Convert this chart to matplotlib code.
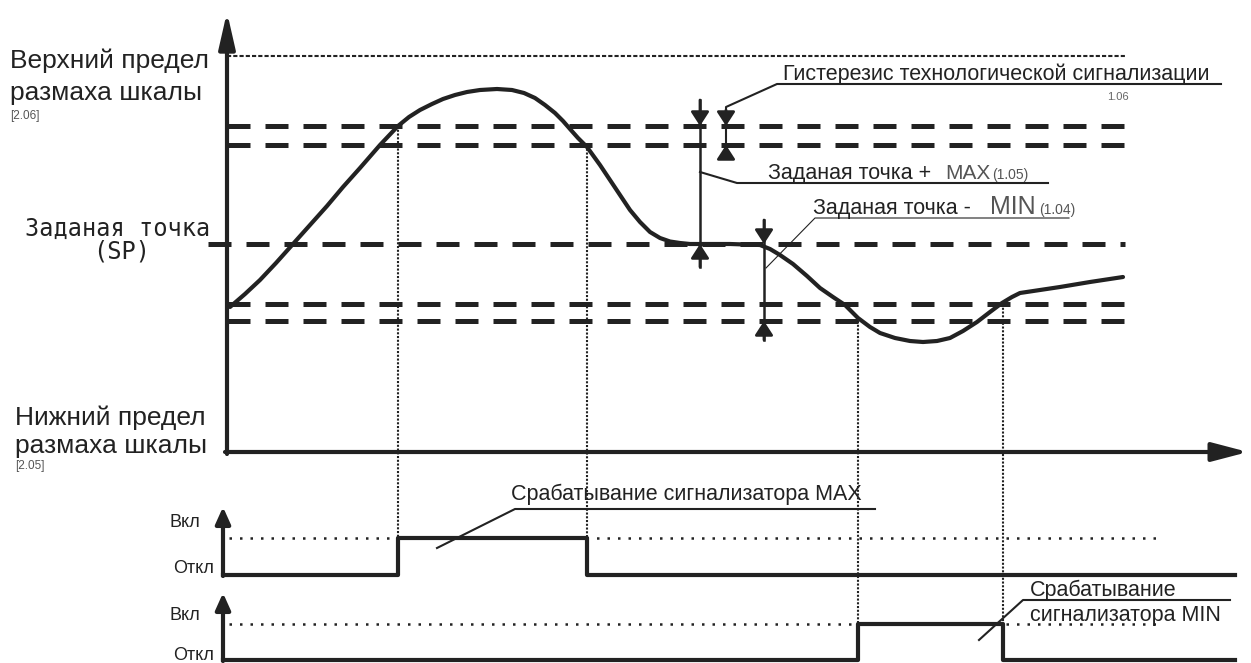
import matplotlib.pyplot as plt

plt.rcParams['font.family'] = ['Liberation Sans', 'DejaVu Sans']

C = '#222222'

# process value curve (time, level in px units)
curve_t = [230, 245, 260, 276, 293, 310, 327, 343, 360, 380, 398, 409, 420, 432, 443,
           455, 467, 480, 497, 512, 524, 535, 545, 555, 563, 570, 578, 587, 600, 610,
           620, 630, 640, 650, 660, 670, 680, 690, 700, 730, 760, 770, 780, 793, 807,
           820, 833, 845, 858, 870, 880, 895, 910, 923, 937, 950, 963, 977, 990, 1002,
           1012, 1020, 1040, 1060, 1090, 1123]
curve_v = [307, 294, 280, 263, 244, 225, 206, 187, 168, 145, 126, 117, 110, 104, 99,
           95, 92, 90, 89, 90, 93, 98, 105, 113, 121, 129, 138, 147, 165, 180,
           195, 210, 222, 232, 238, 241.5, 243, 244, 244, 244, 245, 249, 255, 264, 276,
           288, 297, 305, 318, 327, 333, 338, 341, 342, 341, 338, 331, 322, 312, 303,
           297, 293, 290, 287, 282, 277]

# levels
upper_limit = 56
max_on, max_off = 126, 145
setpoint = 244
min_off, min_on = 304, 321
levels_end = 1125

# alarm switching moments
max_t_on, max_t_off = 398, 587
min_t_on, min_t_off = 858, 1003

# relay diagrams (on / off levels)
relay1_on, relay1_off = 538, 575
relay2_on, relay2_off = 624, 660

# axes geometry
y_axis_x, x_axis_y = 227, 452
relay_axis_x = 223
relay_end = 1235

fig = plt.figure(figsize=(12.51, 6.63), dpi=100)
ax = fig.add_axes([0, 0, 1, 1])
ax.set_xlim(0, 1251)
ax.set_ylim(663, 0)
ax.axis('off')


def arrow(tip, tail, lw=2, ms=10, hl=0.85, hw=0.55):
    ax.annotate('', xy=tip, xytext=tail,
                arrowprops=dict(arrowstyle=f'-|>,head_length={hl},head_width={hw}',
                                color=C, lw=lw, mutation_scale=ms,
                                shrinkA=0, shrinkB=0))


# main axes
arrow((y_axis_x, 12), (y_axis_x, x_axis_y + 2), lw=3, ms=15, hl=1.45, hw=0.33)
arrow((1248, x_axis_y), (y_axis_x - 2, x_axis_y), lw=3, ms=15, hl=1.45, hw=0.38)

# limit and alarm levels
ax.plot([y_axis_x, levels_end], [upper_limit] * 2, color=C, lw=1.5, dashes=(2, 1))
for lv in [max_on, max_off, min_off, min_on]:
    ax.plot([y_axis_x, levels_end], [lv] * 2, color=C, lw=3.6, dashes=(4.6, 3))
ax.plot([208, levels_end], [setpoint] * 2, color=C, lw=3.6, dashes=(4.6, 3))

# process curve
ax.plot(curve_t, curve_v, color=C, lw=3, solid_capstyle='round', solid_joinstyle='round')

# switching moments
dots = (0, (1, 0.8))
ax.plot([max_t_on] * 2, [max_on, relay1_on], color=C, lw=1.5, linestyle=dots)
ax.plot([max_t_off] * 2, [max_off, relay1_off], color=C, lw=1.5, linestyle=dots)
ax.plot([min_t_on] * 2, [min_on, relay2_on], color=C, lw=1.5, linestyle=dots)
ax.plot([min_t_off] * 2, [min_off, relay2_off], color=C, lw=1.5, linestyle=dots)

# relay diagrams
for on, off in [(relay1_on, relay1_off), (relay2_on, relay2_off)]:
    ax.plot([relay_axis_x + 6, 1162], [on] * 2, color=C, lw=1.8, dashes=(1, 3.2))
arrow((relay_axis_x, 507), (relay_axis_x, relay1_off + 1), lw=3, ms=10, hl=1.0, hw=0.45)
arrow((relay_axis_x, 593), (relay_axis_x, relay2_off + 1), lw=3, ms=10, hl=1.0, hw=0.45)
ax.plot([relay_axis_x, max_t_on, max_t_on, max_t_off, max_t_off, relay_end],
        [relay1_off, relay1_off, relay1_on, relay1_on, relay1_off, relay1_off], color=C, lw=3)
ax.plot([relay_axis_x, min_t_on, min_t_on, min_t_off, min_t_off, relay_end],
        [relay2_off, relay2_off, relay2_on, relay2_on, relay2_off, relay2_off], color=C, lw=3)
for y_on, y_off in [(527, 573), (620, 660)]:
    ax.text(200, y_on, 'Вкл', fontsize=13, ha='right', va='baseline', color=C)
    ax.text(214, y_off, 'Откл', fontsize=13, ha='right', va='baseline', color=C)

# left labels
ax.text(10, 68, 'Верхний предел', fontsize=19, color=C, va='baseline')
ax.text(10, 100, 'размаха шкалы', fontsize=19, color=C, va='baseline')
ax.text(10, 119, '[2.06]', fontsize=8.5, color='#555555', va='baseline')
ax.text(15, 425, 'Нижний предел', fontsize=19, color=C, va='baseline')
ax.text(15, 453, 'размаха шкалы', fontsize=19, color=C, va='baseline')
ax.text(15, 469, '[2.05]', fontsize=8.5, color='#555555', va='baseline')
ax.text(118, 236, 'Заданая точка', fontsize=17, color=C, ha='center', va='baseline',
        family='DejaVu Sans Mono')
ax.text(122, 258, '(SP)', fontsize=17, color=C, ha='center', va='baseline',
        family='DejaVu Sans Mono')

# hysteresis annotation
ax.plot([1221, 777, 726, 726], [84, 84, 107, 158], color=C, lw=1.5)
arrow((726, max_on), (726, 110))
arrow((726, max_off), (726, 158))
ax.text(783, 80, 'Гистерезис технологической сигнализации', fontsize=15.5, color=C,
        va='baseline')
ax.text(1118, 100, '1.06', fontsize=8, color='#666666', ha='center', va='baseline')

# SP + MAX annotation
ax.plot([700, 700], [100, 267], color=C, lw=1.8)
arrow((700, max_on), (700, 100))
arrow((700, setpoint), (700, 267))
ax.plot([700, 737, 1048], [172, 183, 183], color=C, lw=1.5)
ax.text(768, 179, 'Заданая точка +', fontsize=15.5, color=C, va='baseline')
ax.text(945, 179, 'MAX', fontsize=15, color='#555555', va='baseline')
ax.text(992, 179, '(1.05)', fontsize=10, color='#555555', va='baseline')

# SP - MIN annotation
ax.plot([764, 764], [220, 340], color=C, lw=1.8)
arrow((764, setpoint), (764, 220))
arrow((764, min_on), (764, 340))
ax.plot([766, 815, 1069], [268, 218, 218], color=C, lw=0.8)
ax.text(813, 214, 'Заданая точка -', fontsize=15.5, color=C, va='baseline')
ax.text(990, 214, 'MIN', fontsize=18, color='#555555', va='baseline')
ax.text(1039, 214, '(1.04)', fontsize=10, color='#555555', va='baseline')

# relay annotations
ax.plot([437, 515, 875], [548, 509, 509], color=C, lw=1.5)
ax.text(511, 500, 'Срабатывание сигнализатора MAX', fontsize=15.5, color=C, va='baseline')
ax.plot([979, 1023, 1230], [640, 600, 600], color=C, lw=1.5)
ax.text(1030, 596, 'Срабатывание', fontsize=15.5, color=C, va='baseline')
ax.text(1030, 621, 'сигнализатора MIN', fontsize=15.5, color=C, va='baseline')

plt.savefig('out.png', dpi=100)
